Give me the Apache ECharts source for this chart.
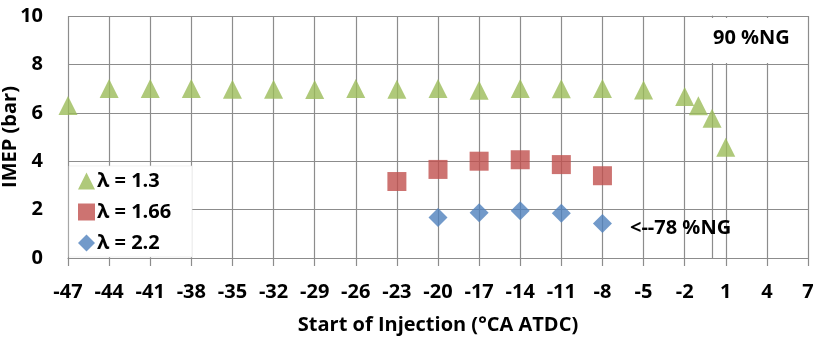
<!DOCTYPE html>
<html>
<head>
<meta charset="utf-8">
<script src="https://cdn.jsdelivr.net/npm/echarts@6/dist/echarts.min.js"></script>
<style>
  html, body { margin: 0; padding: 0; background: #fff; }
  #chart { width: 815px; height: 338px; }
</style>
</head>
<body>
<div id="chart"></div>
<script>
// Start of injection (°CA ATDC) and IMEP (bar) for each excess-air ratio
const soiLambda13 = [-47, -44, -41, -38, -35, -32, -29, -26, -23, -20, -17, -14, -11, -8, -5, -2, -1, 0, 1];
const imepLambda13 = [6.3, 7.0, 7.0, 7.0, 6.97, 6.97, 6.96, 7.0, 6.97, 7.0, 6.93, 7.0, 6.99, 7.0, 6.94, 6.67, 6.29, 5.77, 4.58];

const soiLambda166 = [-23, -20, -17, -14, -11, -8];
const imepLambda166 = [3.16, 3.66, 4.0, 4.06, 3.86, 3.4];

const soiLambda22 = [-20, -17, -14, -11, -8];
const imepLambda22 = [1.67, 1.87, 1.95, 1.85, 1.43];

const seriesNames = ['λ = 1.3', 'λ = 1.66', 'λ = 2.2'];
const xTitle = 'Start of Injection (°CA ATDC)';
const yTitle = 'IMEP (bar)';
const noteTop = '90 %NG';
const noteBottom = '<--78 %NG';

const FONT = '"Open Sans", "DejaVu Sans", sans-serif';
const GRID_COLOR = '#8c8c8c';

function pairs(xs, ys) {
  return xs.map((x, i) => [x, ys[i]]);
}

const chart = echarts.init(document.getElementById('chart'), null, { renderer: 'canvas' });

chart.setOption({
  animation: false,
  backgroundColor: '#ffffff',
  textStyle: { fontFamily: FONT },
  grid: { left: 68, right: 7, top: 16, bottom: 80, containLabel: false, outerBoundsMode: 'none' },
  xAxis: {
    type: 'value',
    min: -47,
    max: 7,
    interval: 3,
    name: xTitle,
    nameLocation: 'middle',
    nameGap: 57,
    nameMoveOverlap: false,
    nameTextStyle: { fontFamily: FONT, fontWeight: 'bold', fontSize: 20, color: '#000' },
    axisLine: { show: true, lineStyle: { color: GRID_COLOR, width: 1.2 } },
    axisTick: { show: true, length: 8, inside: false, lineStyle: { color: GRID_COLOR, width: 1.2 } },
    axisLabel: { margin: 24, fontFamily: FONT, fontWeight: 'bold', fontSize: 20, color: '#000' },
    splitLine: { show: true, lineStyle: { color: GRID_COLOR, width: 1.2 } }
  },
  yAxis: {
    type: 'value',
    min: 0,
    max: 10,
    interval: 2,
    name: yTitle,
    nameLocation: 'middle',
    nameGap: 48,
    nameRotate: 90,
    nameMoveOverlap: false,
    nameTextStyle: { fontFamily: FONT, fontWeight: 'bold', fontSize: 20, color: '#000' },
    axisLine: { show: true, lineStyle: { color: GRID_COLOR, width: 1.2 } },
    axisTick: { show: false },
    axisLabel: { margin: 25, fontFamily: FONT, fontWeight: 'bold', fontSize: 20, color: '#000' },
    splitLine: { show: true, lineStyle: { color: GRID_COLOR, width: 1.2 } }
  },
  legend: {
    orient: 'vertical',
    left: 78,
    top: 171,
    itemWidth: 17,
    itemHeight: 17,
    itemGap: 11,
    padding: 0,
    textStyle: { fontFamily: FONT, fontWeight: 'bold', fontSize: 20, color: '#000', padding: [0, 0, 0, -3] },
    data: seriesNames
  },
  graphic: [
    // white panel behind the legend
    { type: 'rect', z: 3, shape: { x: 69, y: 166, width: 123, height: 91 },
      style: { fill: '#fff', stroke: '#e6e6e6', lineWidth: 0.6 } },
    // white panel behind the top-right note
    { type: 'rect', z: 3, shape: { x: 706, y: 18, width: 101, height: 45 }, style: { fill: '#fff' } },
    { type: 'text', z: 5, left: 713, top: 28,
      style: { text: noteTop, font: 'bold 20px ' + FONT, fill: '#000' } },
    { type: 'text', z: 5, left: 630, top: 218,
      style: { text: noteBottom, font: 'bold 20px ' + FONT, fill: '#000' } }
  ],
  series: [
    {
      name: seriesNames[0], type: 'scatter', symbol: 'triangle', symbolSize: [19, 19],
      itemStyle: { color: '#9bbb59' }, data: pairs(soiLambda13, imepLambda13)
    },
    {
      name: seriesNames[1], type: 'scatter', symbol: 'rect', symbolSize: [19, 19],
      itemStyle: { color: '#c0504d' }, data: pairs(soiLambda166, imepLambda166)
    },
    {
      name: seriesNames[2], type: 'scatter', symbol: 'diamond', symbolSize: [19, 19],
      itemStyle: { color: '#4f81bd' }, data: pairs(soiLambda22, imepLambda22)
    }
  ]
});
</script>
</body>
</html>
